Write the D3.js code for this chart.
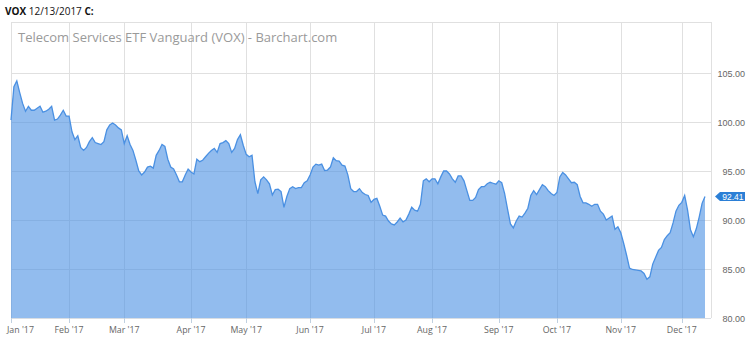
<!DOCTYPE html>
<html>
<head>
<meta charset="utf-8">
<script src="https://cdn.jsdelivr.net/npm/d3@7"></script>
<style>
  body { margin: 0; background: #fff; }
  svg { display: block; }
</style>
</head>
<body>
<div id="chart"></div>
<script>
// Daily closes of VOX in 2017, one array per month (trading days only)
const closesJan = [100.2, 103.6, 104.2, 103.0, 101.9, 101.1, 101.6, 101.2, 101.2, 101.4,
                   101.6, 101.0, 101.1, 101.3, 101.6, 100.2, 100.3, 100.7, 101.2, 100.6];
const closesFeb = [100.6, 99.0, 98.2, 98.6, 97.4, 97.1, 97.4, 98.0, 98.4, 97.9,
                   97.8, 97.7, 98.0, 99.2, 99.7, 99.9, 99.7, 99.4, 99.2];
const closesMar = [97.8, 98.6, 97.7, 97.1, 96.1, 95.0, 94.6, 94.9, 95.4, 95.5,
                   95.3, 96.6, 97.1, 97.7, 97.5, 96.2, 95.4, 95.2, 94.6, 93.9,
                   93.9, 94.6, 95.2];
const closesApr = [94.9, 94.7, 96.2, 95.95, 96.1, 96.45, 96.8, 97.1, 97.3, 96.9,
                   97.8, 97.9, 98.1, 97.8, 96.9, 97.3, 98.2, 98.7, 97.6];
const closesMay = [96.7, 96.45, 96.6, 93.9, 92.7, 94.1, 94.4, 94.1, 93.7, 92.55,
                   93.1, 93.15, 92.9, 91.3, 92.4, 93.2, 93.4, 93.2, 93.3, 93.3,
                   93.8, 94.0];
const closesJun = [94.6, 95.4, 95.7, 95.6, 95.7, 95.05, 95.1, 95.4, 96.35, 96.05,
                   96.0, 95.6, 95.5, 94.6, 93.2, 92.9, 92.9, 93.2, 92.8, 92.6,
                   92.5, 91.8];
const closesJul = [92.1, 92.2, 91.4, 90.5, 90.4, 89.9, 89.6, 89.5, 89.8, 90.2,
                   89.8, 90.0, 90.6, 91.3, 91.0, 90.9, 91.6, 94.0, 94.2, 93.9];
const closesAug = [94.2, 94.2, 93.7, 94.4, 95.0, 95.0, 94.7, 94.2, 93.85, 94.5,
                   94.5, 94.0, 93.0, 92.0, 92.0, 92.3, 93.1, 93.4, 93.4, 93.7,
                   93.85, 93.75, 93.65];
const closesSep = [94.0, 93.8, 92.7, 91.1, 89.6, 89.2, 89.9, 90.4, 90.3, 90.7,
                   91.2, 92.5, 93.0, 92.6, 93.1, 93.6, 93.4, 93.0, 92.7, 92.5];
const closesOct = [92.8, 94.4, 94.85, 94.6, 94.2, 93.8, 93.85, 93.6, 92.4, 91.75,
                   91.75, 91.6, 91.4, 91.6, 91.6, 90.9, 90.6, 90.0, 90.2, 90.4,
                   89.05, 89.3];
const closesNov = [88.7, 87.6, 86.4, 85.1, 84.95, 84.9, 84.85, 84.8, 84.55, 83.95,
                   84.2, 85.5, 86.2, 86.9, 87.2, 88.0, 88.4, 88.7, 89.7, 90.9,
                   91.5];
const closesDec = [91.8, 92.5, 91.0, 89.0, 88.3, 89.1, 90.3, 91.7, 92.41];

const monthCloses = [closesJan, closesFeb, closesMar, closesApr, closesMay, closesJun,
                     closesJul, closesAug, closesSep, closesOct, closesNov, closesDec];
const monthLabels = ["Jan '17", "Feb '17", "Mar '17", "Apr '17", "May '17", "Jun '17",
                     "Jul '17", "Aug '17", "Sep '17", "Oct '17", "Nov '17", "Dec '17"];
const priceTicks = [80, 85, 90, 95, 100, 105];
const lastClose = 92.41;

// flatten months into one series indexed by trading day
const data = [];
const monthStarts = [];
monthCloses.forEach(function(month){
    monthStarts.push(data.length);
    month.forEach(function(v){ data.push({i: data.length, v: v}); });
});

const width = 750, height = 337;
const plot = {left: 11, right: 711, top: 22, bottom: 318};

const svg = d3.select("#chart").append("svg")
    .attr("width", width)
    .attr("height", height);

// x: trading day index, y: price
const x = d3.scaleLinear()
    .domain([0, data.length - 1])
    .range([plot.left, 705]);
const y = d3.scaleLinear()
    .domain([80, 105])
    .range([plot.bottom, 73]);

// header
const header = svg.append("text")
    .attr("x", 5).attr("y", 15)
    .style("font-family", "'Open Sans', sans-serif")
    .style("font-size", "10px")
    .attr("fill", "#111");
header.append("tspan").attr("font-weight", "bold").text("VOX");
header.append("tspan").text(" 12/13/2017 ");
header.append("tspan").attr("font-weight", "bold").text("C:");

// grid
const grid = svg.append("g").attr("stroke", "#e0e0e0").attr("stroke-width", 1).attr("shape-rendering", "crispEdges");
grid.selectAll(".hline")
    .data(priceTicks)
    .join("line")
    .attr("x1", plot.left).attr("x2", plot.right)
    .attr("y1", d => Math.round(y(d)) + 0.5).attr("y2", d => Math.round(y(d)) + 0.5);
grid.append("line")
    .attr("x1", plot.left).attr("x2", plot.right)
    .attr("y1", plot.top + 0.5).attr("y2", plot.top + 0.5);
grid.selectAll(".vline")
    .data(monthStarts)
    .join("line")
    .attr("x1", d => Math.round(x(d)) + 0.5).attr("x2", d => Math.round(x(d)) + 0.5)
    .attr("y1", plot.top).attr("y2", plot.bottom);
grid.append("line")
    .attr("x1", plot.right + 0.5).attr("x2", plot.right + 0.5)
    .attr("y1", plot.top).attr("y2", plot.bottom);

// title inside the plot
svg.append("text")
    .attr("x", 18).attr("y", 42)
    .style("font-family", "'Open Sans', sans-serif")
    .style("font-size", "13px")
    .attr("fill", "#9a9a9a")
    .text("Telecom Services ETF Vanguard (VOX) - Barchart.com");

// area + line
const area = d3.area()
    .x(d => x(d.i))
    .y0(plot.bottom)
    .y1(d => y(d.v));
const line = d3.line()
    .x(d => x(d.i))
    .y(d => y(d.v));

svg.append("path")
    .datum(data)
    .attr("fill", "rgba(74,144,226,0.6)")
    .attr("d", area);
svg.append("path")
    .datum(data)
    .attr("fill", "none")
    .attr("stroke", "#4a90e2")
    .attr("stroke-width", 1.3)
    .attr("d", line);

// x axis
svg.append("line")
    .attr("x1", plot.left).attr("x2", plot.right)
    .attr("y1", plot.bottom + 0.5).attr("y2", plot.bottom + 0.5)
    .attr("stroke", "#d8dde3");
svg.selectAll(".xtick")
    .data(monthStarts)
    .join("line")
    .attr("x1", d => Math.round(x(d)) + 0.5).attr("x2", d => Math.round(x(d)) + 0.5)
    .attr("y1", plot.bottom).attr("y2", plot.bottom + 5)
    .attr("stroke", "#c0d0e0");
svg.selectAll(".xlabel")
    .data(monthStarts)
    .join("text")
    .attr("x", (d, k) => k === 0 ? 7 : x(d))
    .attr("y", 333)
    .attr("text-anchor", (d, k) => k === 0 ? "start" : "middle")
    .style("font-family", "'Open Sans', sans-serif")
    .style("font-size", "8.8px")
    .attr("fill", "#666")
    .text((d, k) => monthLabels[k]);

// y labels on the right
svg.selectAll(".ylabel")
    .data(priceTicks)
    .join("text")
    .attr("x", 745)
    .attr("y", d => y(d) + 4)
    .attr("text-anchor", "end")
    .style("font-family", "'Liberation Sans', Arial, sans-serif")
    .style("font-size", "9px")
    .attr("fill", "#666")
    .text(d => d.toFixed(2));

// last price tag
const ty = y(lastClose);
svg.append("path")
    .attr("d", `M715,${ty} L720,${ty - 4.5} L745,${ty - 4.5} L745,${ty + 4.5} L720,${ty + 4.5} Z`)
    .attr("fill", "#2b7fd6");
svg.append("text")
    .attr("x", 743.5)
    .attr("y", ty + 3.3)
    .attr("text-anchor", "end")
    .style("font-family", "'Liberation Sans', Arial, sans-serif")
    .style("font-size", "8.5px")
    .attr("fill", "#fff")
    .text(lastClose.toFixed(2));
</script>
</body>
</html>
